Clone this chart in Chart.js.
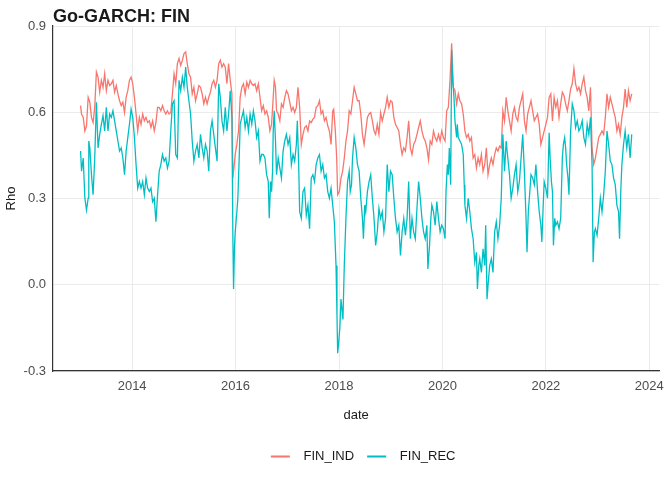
<!DOCTYPE html>
<html>
<head>
<meta charset="utf-8">
<script src="https://cdn.jsdelivr.net/npm/chart.js@4.4.1/dist/chart.umd.min.js"></script>
<style>
html, body { margin: 0; padding: 0; background: #fff; }
#wrap { width: 672px; height: 480px; }
</style>
</head>
<body>
<div id="wrap"><canvas id="rhoChart" width="672" height="480"></canvas></div>
<script>
const titulo = 'Go-GARCH: FIN';
const seriesNames = ['FIN_IND', 'FIN_REC'];
const seriesColors = ['#F8766D', '#00BFC4'];
const xTicks = [2014, 2016, 2018, 2020, 2022, 2024];
const yTicks = [-0.3, 0.0, 0.3, 0.6, 0.9];

// [fecha decimal, rho]
const finInd = [
    [2013.003,0.623],[2013.022,0.594],[2013.054,0.582],[2013.086,0.535],[2013.118,0.553],[2013.150,0.652],[2013.182,0.635],[2013.214,0.582],[2013.245,0.564],[2013.277,0.617],
    [2013.309,0.740],[2013.341,0.722],[2013.373,0.670],[2013.405,0.711],[2013.437,0.687],[2013.469,0.734],[2013.501,0.675],[2013.533,0.711],[2013.565,0.693],[2013.597,0.699],
    [2013.629,0.711],[2013.661,0.670],[2013.693,0.693],[2013.725,0.664],[2013.757,0.640],[2013.789,0.623],[2013.821,0.635],[2013.853,0.599],[2013.884,0.652],[2013.916,0.675],
    [2013.948,0.711],[2013.980,0.722],[2014.012,0.699],[2014.044,0.652],[2014.076,0.594],[2014.108,0.535],[2014.140,0.582],[2014.172,0.558],[2014.204,0.594],[2014.236,0.570],
    [2014.268,0.582],[2014.300,0.564],[2014.332,0.570],[2014.364,0.547],[2014.396,0.570],[2014.428,0.535],[2014.460,0.564],[2014.492,0.617],[2014.523,0.617],[2014.555,0.605],
    [2014.587,0.623],[2014.619,0.605],[2014.651,0.594],[2014.683,0.605],[2014.715,0.594],[2014.747,0.599],[2014.779,0.664],[2014.811,0.734],
    [2014.843,0.699],[2014.875,0.769],[2014.907,0.787],[2014.939,0.763],[2014.971,0.781],[2015.003,0.804],[2015.035,0.810],[2015.066,0.769],[2015.098,0.734],[2015.130,0.722],
    [2015.162,0.664],[2015.194,0.687],[2015.226,0.640],[2015.258,0.664],[2015.290,0.693],[2015.322,0.687],[2015.354,0.664],[2015.386,0.629],[2015.418,0.652],[2015.450,0.629],
    [2015.482,0.652],[2015.514,0.670],[2015.546,0.699],[2015.578,0.711],[2015.610,0.687],[2015.642,0.711],[2015.674,0.769],[2015.705,0.781],[2015.737,0.757],[2015.769,0.769],
    [2015.801,0.757],[2015.833,0.699],[2015.865,0.769],[2015.897,0.711],[2015.929,0.664],[2015.948,0.371],[2015.974,0.418],[2015.993,0.453],[2016.025,0.488],[2016.057,0.535],
    [2016.089,0.652],[2016.121,0.687],[2016.153,0.699],[2016.185,0.664],[2016.217,0.705],[2016.249,0.687],[2016.281,0.711],[2016.313,0.699],[2016.344,0.693],[2016.376,0.699],
    [2016.408,0.675],[2016.440,0.699],[2016.472,0.652],[2016.504,0.605],[2016.536,0.623],[2016.568,0.594],[2016.600,0.605],[2016.632,0.582],
    [2016.664,0.535],[2016.696,0.558],[2016.728,0.652],[2016.747,0.711],[2016.772,0.687],[2016.792,0.605],[2016.824,0.594],[2016.856,0.570],[2016.887,0.629],[2016.919,0.617],
    [2016.951,0.652],[2016.983,0.675],[2017.015,0.664],[2017.047,0.635],[2017.079,0.605],[2017.111,0.617],[2017.143,0.599],[2017.175,0.617],[2017.207,0.687],[2017.239,0.617],
    [2017.271,0.488],[2017.303,0.523],[2017.335,0.547],[2017.367,0.553],[2017.399,0.535],[2017.431,0.570],[2017.463,0.564],[2017.495,0.576],[2017.526,0.582],[2017.558,0.617],
    [2017.590,0.623],[2017.622,0.640],[2017.654,0.594],[2017.686,0.605],[2017.718,0.570],[2017.750,0.582],[2017.782,0.553],[2017.814,0.535],[2017.846,0.488],[2017.878,0.605],
    [2017.897,0.611],[2017.929,0.535],[2017.955,0.441],[2017.974,0.313],[2018.006,0.324],[2018.038,0.371],[2018.070,0.395],[2018.102,0.441],[2018.134,0.500],[2018.165,0.535],
    [2018.197,0.605],[2018.229,0.594],[2018.261,0.640],[2018.293,0.687],[2018.325,0.664],[2018.357,0.640],[2018.389,0.640],[2018.421,0.594],[2018.453,0.523],
    [2018.485,0.488],[2018.517,0.535],[2018.549,0.582],[2018.581,0.594],[2018.613,0.599],[2018.645,0.570],[2018.677,0.535],[2018.708,0.523],[2018.740,0.558],[2018.772,0.523],
    [2018.804,0.599],[2018.836,0.570],[2018.868,0.594],[2018.900,0.617],[2018.932,0.652],[2018.964,0.617],[2018.996,0.640],[2019.028,0.635],[2019.060,0.582],[2019.092,0.558],
    [2019.124,0.547],[2019.156,0.535],[2019.188,0.488],[2019.220,0.453],[2019.252,0.476],[2019.284,0.465],[2019.316,0.512],[2019.347,0.570],[2019.379,0.476],[2019.411,0.453],
    [2019.443,0.488],[2019.475,0.500],[2019.507,0.523],[2019.539,0.547],[2019.571,0.570],[2019.603,0.535],[2019.635,0.512],[2019.667,0.500],[2019.699,0.476],[2019.731,0.435],
    [2019.763,0.500],[2019.795,0.488],[2019.827,0.535],[2019.859,0.512],[2019.891,0.500],[2019.923,0.523],[2019.955,0.500],[2019.986,0.535],[2020.018,0.512],[2020.050,0.500],
    [2020.082,0.605],[2020.114,0.617],[2020.146,0.711],[2020.178,0.840],[2020.210,0.687],[2020.242,0.675],[2020.274,0.629],
    [2020.306,0.664],[2020.338,0.640],[2020.370,0.629],[2020.402,0.594],[2020.434,0.535],[2020.466,0.512],[2020.498,0.523],[2020.529,0.500],[2020.561,0.512],[2020.593,0.441],
    [2020.625,0.453],[2020.657,0.406],[2020.689,0.441],[2020.721,0.418],[2020.753,0.453],[2020.785,0.395],[2020.817,0.418],[2020.849,0.476],[2020.881,0.383],[2020.913,0.418],
    [2020.945,0.441],[2020.977,0.418],[2021.009,0.453],[2021.041,0.476],[2021.073,0.465],[2021.105,0.482],[2021.137,0.476],[2021.168,0.605],[2021.200,0.570],[2021.232,0.652],
    [2021.264,0.605],[2021.296,0.570],[2021.328,0.535],[2021.360,0.594],[2021.392,0.617],[2021.424,0.582],[2021.456,0.570],[2021.488,0.617],[2021.520,0.640],[2021.552,0.664],
    [2021.584,0.570],[2021.616,0.535],[2021.648,0.594],[2021.680,0.617],[2021.712,0.640],[2021.744,0.605],[2021.776,0.570],[2021.807,0.582],[2021.839,0.594],[2021.871,0.558],
    [2021.903,0.488],[2021.935,0.512],[2021.967,0.535],[2021.999,0.558],[2022.031,0.582],[2022.063,0.652],[2022.095,0.664],
    [2022.127,0.570],[2022.159,0.652],[2022.191,0.617],[2022.223,0.640],[2022.254,0.582],[2022.286,0.629],[2022.318,0.670],[2022.350,0.658],[2022.382,0.629],[2022.414,0.605],
    [2022.446,0.640],[2022.478,0.681],[2022.510,0.699],[2022.542,0.752],[2022.574,0.699],[2022.606,0.675],[2022.638,0.687],[2022.670,0.664],[2022.702,0.699],[2022.734,0.722],
    [2022.766,0.675],[2022.798,0.652],[2022.830,0.605],[2022.862,0.687],[2022.893,0.476],[2022.925,0.418],[2022.957,0.441],[2022.989,0.476],[2023.021,0.512],[2023.053,0.523],
    [2023.085,0.535],[2023.117,0.523],[2023.149,0.582],[2023.181,0.664],[2023.213,0.617],[2023.245,0.652],[2023.277,0.629],[2023.309,0.605],[2023.341,0.582],[2023.373,0.535],
    [2023.405,0.558],[2023.437,0.523],[2023.469,0.582],[2023.501,0.617],[2023.532,0.681],[2023.564,0.617],[2023.596,0.675],[2023.628,0.640],[2023.660,0.664]
];

const finRec = [
    [2013.003,0.465],[2013.022,0.395],[2013.054,0.441],[2013.086,0.301],[2013.118,0.260],[2013.150,0.301],[2013.162,0.500],[2013.182,0.476],[2013.214,0.383],[2013.245,0.313],
    [2013.277,0.441],[2013.309,0.635],[2013.341,0.476],[2013.373,0.523],[2013.405,0.558],[2013.437,0.588],[2013.469,0.535],[2013.501,0.617],[2013.533,0.535],[2013.565,0.594],
    [2013.597,0.582],[2013.629,0.605],[2013.661,0.570],[2013.693,0.535],[2013.725,0.500],[2013.757,0.465],[2013.789,0.476],[2013.821,0.441],[2013.853,0.383],[2013.884,0.465],
    [2013.916,0.512],[2013.948,0.558],[2013.980,0.611],[2014.012,0.582],[2014.044,0.512],[2014.076,0.418],[2014.108,0.336],[2014.140,0.359],[2014.172,0.336],[2014.204,0.359],
    [2014.236,0.313],[2014.268,0.371],[2014.300,0.336],[2014.332,0.324],[2014.364,0.336],[2014.396,0.289],[2014.428,0.301],[2014.460,0.219],[2014.492,0.313],[2014.523,0.395],
    [2014.555,0.418],[2014.587,0.453],[2014.619,0.430],[2014.651,0.441],[2014.683,0.406],[2014.715,0.430],[2014.747,0.535],[2014.779,0.629],[2014.811,0.640],
    [2014.843,0.453],[2014.875,0.441],[2014.907,0.711],[2014.939,0.675],[2014.971,0.722],[2015.003,0.687],[2015.035,0.757],[2015.066,0.687],[2015.098,0.640],[2015.130,0.594],
    [2015.162,0.500],[2015.194,0.430],[2015.226,0.465],[2015.258,0.488],[2015.290,0.441],[2015.322,0.523],[2015.354,0.476],[2015.386,0.441],[2015.418,0.488],[2015.450,0.465],
    [2015.482,0.395],[2015.514,0.535],[2015.546,0.570],[2015.578,0.523],[2015.610,0.476],[2015.642,0.430],[2015.674,0.699],[2015.705,0.652],[2015.737,0.570],[2015.769,0.535],
    [2015.801,0.617],[2015.833,0.535],[2015.865,0.594],[2015.897,0.675],[2015.929,0.582],[2015.948,0.160],[2015.961,-0.015],[2015.980,0.137],[2015.993,0.184],[2016.025,0.254],
    [2016.044,0.301],[2016.070,0.441],[2016.089,0.558],[2016.121,0.582],[2016.153,0.605],[2016.185,0.547],[2016.217,0.582],[2016.249,0.535],[2016.281,0.594],[2016.313,0.558],
    [2016.344,0.605],[2016.376,0.570],[2016.408,0.512],[2016.440,0.535],[2016.472,0.430],[2016.504,0.453],[2016.536,0.453],[2016.568,0.441],[2016.600,0.383],[2016.632,0.359],
    [2016.651,0.231],[2016.677,0.359],[2016.696,0.324],[2016.715,0.395],[2016.728,0.535],[2016.747,0.605],[2016.772,0.500],[2016.792,0.383],[2016.824,0.441],[2016.856,0.406],
    [2016.887,0.371],[2016.919,0.465],[2016.951,0.500],[2016.983,0.523],[2017.015,0.488],[2017.047,0.512],[2017.079,0.418],[2017.111,0.453],[2017.143,0.430],[2017.175,0.488],
    [2017.194,0.570],[2017.220,0.418],[2017.239,0.254],[2017.271,0.231],[2017.303,0.324],[2017.335,0.336],[2017.367,0.242],[2017.399,0.277],[2017.431,0.195],[2017.463,0.371],
    [2017.495,0.383],[2017.526,0.359],[2017.558,0.418],[2017.590,0.441],[2017.622,0.453],[2017.654,0.395],[2017.686,0.418],[2017.718,0.371],[2017.750,0.383],[2017.782,0.324],
    [2017.814,0.301],[2017.846,0.336],[2017.878,0.277],[2017.910,0.219],[2017.942,0.067],[2017.961,-0.109],[2017.974,-0.238],[2017.993,-0.203],[2018.018,-0.144],[2018.038,-0.050],
    [2018.057,-0.085],[2018.076,-0.121],[2018.102,0.067],[2018.134,0.231],[2018.165,0.359],[2018.197,0.395],[2018.217,0.324],[2018.242,0.348],[2018.261,0.441],[2018.293,0.512],
    [2018.325,0.476],[2018.357,0.418],[2018.389,0.395],[2018.421,0.301],[2018.453,0.231],
    [2018.472,0.160],[2018.498,0.277],[2018.517,0.254],[2018.549,0.324],[2018.581,0.359],[2018.613,0.383],[2018.645,0.301],[2018.677,0.231],[2018.708,0.137],[2018.740,0.184],
    [2018.772,0.266],[2018.804,0.231],[2018.836,0.254],[2018.868,0.184],[2018.900,0.231],[2018.932,0.418],[2018.964,0.324],[2018.996,0.395],[2019.028,0.383],[2019.060,0.301],
    [2019.092,0.231],[2019.124,0.184],[2019.156,0.207],[2019.188,0.102],[2019.220,0.184],[2019.252,0.231],[2019.284,0.172],[2019.316,0.231],[2019.347,0.359],[2019.379,0.160],
    [2019.411,0.231],[2019.443,0.184],[2019.475,0.160],[2019.507,0.266],[2019.539,0.359],[2019.571,0.301],[2019.603,0.231],[2019.635,0.184],[2019.667,0.160],[2019.699,0.207],
    [2019.718,0.055],[2019.750,0.137],[2019.776,0.231],[2019.795,0.277],[2019.827,0.254],[2019.859,0.207],[2019.891,0.289],[2019.923,0.231],[2019.955,0.184],[2019.986,0.207],
    [2020.018,0.195],[2020.050,0.160],[2020.069,0.324],[2020.095,0.418],[2020.114,0.383],[2020.133,0.476],[2020.159,0.348],[2020.178,0.816],[2020.197,0.711],[2020.223,0.652],
    [2020.242,0.570],[2020.274,0.512],
    [2020.287,0.558],[2020.306,0.512],[2020.338,0.500],[2020.370,0.488],[2020.402,0.453],[2020.421,0.348],[2020.434,0.277],[2020.466,0.231],[2020.498,0.301],[2020.529,0.254],
    [2020.561,0.195],[2020.593,0.160],[2020.625,0.078],[2020.657,0.113],[2020.676,-0.015],[2020.702,0.067],[2020.721,0.090],[2020.753,0.043],[2020.785,0.125],[2020.817,0.067],
    [2020.836,0.207],[2020.862,-0.050],[2020.881,-0.003],[2020.913,0.067],[2020.945,0.090],[2020.977,0.043],[2021.009,0.184],[2021.041,0.219],[2021.073,0.160],[2021.105,0.207],
    [2021.137,0.301],[2021.168,0.523],[2021.200,0.395],[2021.232,0.500],[2021.264,0.441],[2021.296,0.383],[2021.328,0.301],[2021.360,0.336],[2021.392,0.383],[2021.424,0.418],
    [2021.456,0.324],[2021.488,0.359],[2021.520,0.441],[2021.552,0.523],[2021.584,0.395],[2021.616,0.231],[2021.635,0.113],[2021.660,0.254],[2021.680,0.301],[2021.712,0.383],
    [2021.744,0.371],[2021.776,0.348],[2021.807,0.418],[2021.839,0.324],[2021.871,0.254],[2021.903,0.207],[2021.922,0.149],[2021.948,0.277],[2021.967,0.359],[2021.999,0.336],
    [2022.031,0.301],
    [2022.063,0.529],[2022.082,0.441],[2022.107,0.359],[2022.127,0.324],[2022.146,0.137],[2022.171,0.231],[2022.191,0.207],[2022.223,0.219],[2022.254,0.195],[2022.286,0.231],
    [2022.318,0.441],[2022.338,0.488],[2022.363,0.512],[2022.382,0.476],[2022.401,0.418],[2022.427,0.371],[2022.446,0.313],[2022.478,0.535],[2022.510,0.629],[2022.542,0.605],
    [2022.574,0.547],[2022.606,0.570],[2022.638,0.535],[2022.670,0.547],[2022.702,0.570],[2022.734,0.512],[2022.766,0.488],[2022.798,0.558],[2022.830,0.523],[2022.862,0.582],
    [2022.893,0.418],[2022.913,0.078],[2022.938,0.184],[2022.957,0.195],[2022.989,0.172],[2023.021,0.231],[2023.053,0.301],[2023.085,0.254],[2023.117,0.313],[2023.149,0.395],
    [2023.181,0.535],[2023.213,0.488],[2023.245,0.430],[2023.277,0.418],[2023.309,0.371],[2023.341,0.348],[2023.373,0.277],[2023.405,0.254],[2023.424,0.160],[2023.450,0.336],
    [2023.469,0.418],[2023.501,0.488],[2023.532,0.535],[2023.564,0.476],[2023.596,0.523],[2023.628,0.441],[2023.660,0.523]
];

function aPuntos(serie) {
    return serie.map(p => ({ x: p[0], y: p[1] }));
}

// ggplot centra la leyenda un poco a la derecha del area
const moverLeyenda = {
    id: 'moverLeyenda',
    afterLayout(chart) {
        chart.legend.left += 7;
        chart.legend.right += 7;
    }
};

Chart.defaults.font.family = '"Liberation Sans", Arial, sans-serif';
Chart.defaults.font.size = 13;
Chart.defaults.color = '#4d4d4d';

const ctx = document.getElementById('rhoChart').getContext('2d');
new Chart(ctx, {
    type: 'line',
    data: {
        datasets: [
            {
                label: seriesNames[0],
                data: aPuntos(finInd),
                borderColor: seriesColors[0],
                backgroundColor: seriesColors[0],
                borderWidth: 1.3,
                pointRadius: 0,
                tension: 0,
                order: 1
            },
            {
                label: seriesNames[1],
                data: aPuntos(finRec),
                borderColor: seriesColors[1],
                backgroundColor: seriesColors[1],
                borderWidth: 1.3,
                pointRadius: 0,
                tension: 0,
                order: 0
            }
        ]
    },
    options: {
        responsive: false,
        animation: false,
        events: [],
        layout: { padding: { left: 0, right: 8, top: 0, bottom: 7 } },
        plugins: {
            title: {
                display: true,
                text: titulo,
                align: 'start',
                fullSize: false,
                color: '#1a1a1a',
                font: { size: 18, weight: 'bold', lineHeight: 1 },
                padding: { top: 8, bottom: 0 }
            },
            legend: {
                position: 'bottom',
                fullSize: false,
                labels: {
                    boxWidth: 19,
                    boxHeight: 2,
                    padding: 13,
                    color: '#1a1a1a',
                    sort: (a, b) => a.datasetIndex - b.datasetIndex,
                    generateLabels(chart) {
                        return Chart.defaults.plugins.legend.labels.generateLabels(chart)
                            .map(l => Object.assign(l, { text: '  ' + l.text, lineWidth: 0 }));
                    }
                }
            },
            tooltip: { enabled: false }
        },
        scales: {
            x: {
                type: 'linear',
                min: 2012.470,
                max: 2024.193,
                afterBuildTicks: s => { s.ticks = xTicks.map(v => ({ value: v })); },
                afterFit: s => { s.height = 66; },
                ticks: { padding: 8, color: '#4d4d4d', callback: v => String(v) },
                grid: { color: '#ebebeb', lineWidth: 1, drawTicks: false },
                border: { display: true, color: '#333333', width: 1.2 },
                title: {
                    display: true,
                    text: 'date',
                    color: '#1a1a1a',
                    font: { size: 13 },
                    padding: { top: 0, bottom: 14 }
                }
            },
            y: {
                min: -0.3,
                max: 0.9,
                afterBuildTicks: s => { s.ticks = yTicks.map(v => ({ value: v })); },
                afterFit: s => { s.width = 53; },
                ticks: { padding: 7, color: '#4d4d4d', callback: v => v.toFixed(1) },
                grid: { color: '#ebebeb', lineWidth: 1, drawTicks: false },
                border: { display: true, color: '#333333', width: 1.2 },
                title: {
                    display: true,
                    text: 'Rho',
                    color: '#1a1a1a',
                    font: { size: 13 },
                    padding: { top: 4, bottom: 0 }
                }
            }
        }
    },
    plugins: [moverLeyenda]
});
</script>
</body>
</html>
